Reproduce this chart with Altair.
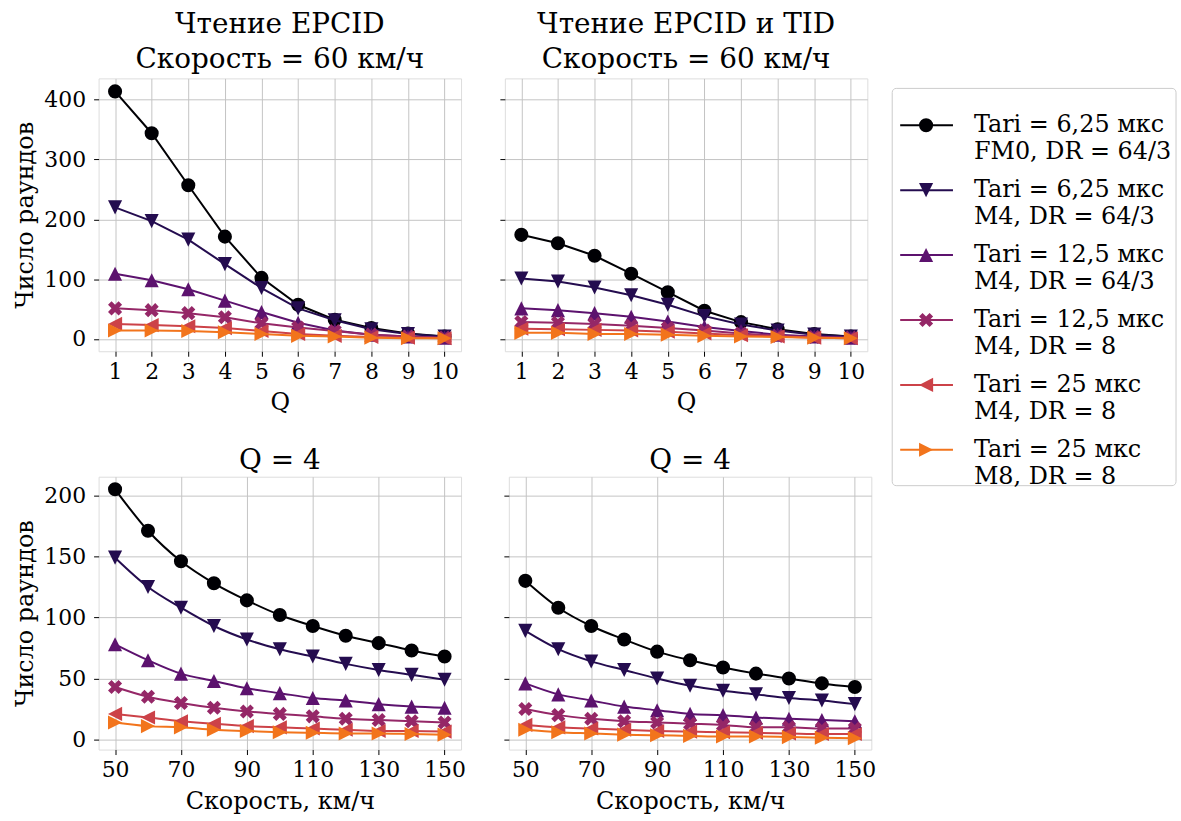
import altair as alt
import pandas as pd

FONT = "DejaVu Serif"

series = [
    "Tari = 6,25 мкс\nFM0, DR = 64/3",
    "Tari = 6,25 мкс\nM4, DR = 64/3",
    "Tari = 12,5 мкс\nM4, DR = 64/3",
    "Tari = 12,5 мкс\nM4, DR = 8",
    "Tari = 25 мкс\nM4, DR = 8",
    "Tari = 25 мкс\nM8, DR = 8",
]
colors = ["#000004", "#240c4f", "#5c126e", "#952767", "#cc4248", "#f2741c"]
shapes = [
    "circle",
    "M0,1 L-1,-1 L1,-1 Z",
    "M0,-1 L-1,1 L1,1 Z",
    "M-0.5,-1 L0,-0.5 L0.5,-1 L1,-0.5 L0.5,0 L1,0.5 L0.5,1 L0,0.5 L-0.5,1 L-1,0.5 L-0.5,0 L-1,-0.5 Z",
    "M-1,0 L1,-1 L1,1 Z",
    "M1,0 L-1,-1 L-1,1 Z",
]

q_vals = [1, 2, 3, 4, 5, 6, 7, 8, 9, 10]
epc_q = [
    [414, 344, 257, 171, 102, 57, 32, 18, 9, 4],
    [220, 197, 166, 125, 85, 51, 31, 16, 8, 4],
    [109, 98, 83, 64, 45, 27, 14, 7, 4, 2],
    [51, 48, 43, 36, 26, 19, 13, 7, 4, 2],
    [25, 23, 21, 18, 13, 8, 5, 3, 2, 1],
    [14, 14, 13, 11, 8, 5, 4, 2, 1, 1],
]
tid_q = [
    [174, 160, 139, 109, 78, 47, 28, 16, 8, 4],
    [101, 96, 86, 73, 57, 38, 24, 14, 7, 4],
    [51, 48, 43, 37, 29, 20, 13, 7, 4, 2],
    [28, 27, 25, 22, 18, 14, 9, 5, 3, 2],
    [17, 16, 15, 14, 12, 9, 6, 4, 2, 1],
    [10, 10, 8, 8, 7, 5, 4, 3, 2, 1],
]

speed_vals = [50, 60, 70, 80, 90, 100, 110, 120, 130, 140, 150]
epc_v = [
    [205, 171, 146, 128, 114, 102, 93, 85, 79, 73, 68],
    [149, 125, 108, 93, 82, 74, 68, 62, 57, 53, 49],
    [78, 65, 54, 48, 42, 38, 34, 32, 29, 27, 26],
    [43, 35, 30, 26, 23, 21, 19, 17, 16, 15, 14],
    [21, 18, 15, 13, 11, 10, 9, 8, 7, 7, 6.5],
    [14, 11, 10, 8, 7, 6, 5.5, 5, 5, 4.5, 4],
]
tid_v = [
    [130, 108, 93, 82, 72, 65, 59, 54, 50, 46, 43],
    [89, 74, 64, 57, 50, 44, 40, 37, 34, 32, 29],
    [46, 37, 32, 27, 24, 21, 20, 18, 17, 16, 15],
    [25, 20, 17, 15, 14, 13, 12, 10, 10, 9, 9],
    [12, 10, 9, 8, 7, 6.5, 6, 5.5, 5, 4.5, 4.5],
    [8, 6, 5, 4, 3.5, 3, 2.5, 2.5, 2, 1.5, 1],
]

titles = [
    ["Чтение EPCID", "Скорость = 60 км/ч"],
    ["Чтение EPCID и TID", "Скорость = 60 км/ч"],
    ["Q = 4"],
    ["Q = 4"],
]
q_ticks = q_vals
speed_ticks = [50, 70, 90, 110, 130, 150]
top_yticks = [0, 100, 200, 300, 400]
bot_yticks = [0, 50, 100, 150, 200]

PW, PH = 364, 274
MSIZE = 200
GRID = "#c4c4c4"


def panel(xs, ys_list, title, toff, xtitle, xdomain, xticks, ydomain, yticks, show_y, interp):
    layers = []
    for i, ys in enumerate(ys_list):
        df = pd.DataFrame({"x": xs, "y": ys})
        base = alt.Chart(df)
        xenc = alt.X(
            "x:Q",
            scale=alt.Scale(domain=xdomain, nice=False, zero=False),
            axis=alt.Axis(
                values=xticks, title=xtitle, grid=True, gridColor=GRID,
                gridWidth=1, tickColor="black", tickSize=5, labelFontSize=22,
                labelColor="black", labelFont=FONT, titleFont=FONT,
                titleFontSize=24, titleFontWeight="normal", titleColor="black",
                domain=False, labelPadding=5, titlePadding=9, format="d",
                labelFlush=False,
            ),
        )
        yaxis = dict(
            values=yticks, grid=True, gridColor=GRID, gridWidth=1,
            tickColor="black", tickSize=5, labelFontSize=22, labelColor="black",
            labelFont=FONT, domain=False, labelPadding=8, format="d",
        )
        if show_y:
            yaxis.update(title="Число раундов", titleFont=FONT, titleFontSize=24,
                         titleFontWeight="normal", titleColor="black", titlePadding=6)
        else:
            yaxis.update(title=None, labels=False)
        yenc = alt.Y("y:Q", scale=alt.Scale(domain=ydomain, nice=False, zero=False),
                     axis=alt.Axis(**yaxis))
        line = base.mark_line(color=colors[i], strokeWidth=2, interpolate=interp).encode(x=xenc, y=yenc)
        pts = base.mark_point(shape=shapes[i], filled=True, size=MSIZE, opacity=1,
                              color=colors[i]).encode(x=xenc, y=yenc)
        layers += [line, pts]
    return alt.layer(*layers).properties(
        width=PW, height=PH,
        title=alt.TitleParams(text=title, fontSize=28, font=FONT, fontWeight="normal",
                              color="black", anchor="middle", offset=toff, lineHeight=36),
    )


top_ydom = [-20.75, 435.75]
bot_ydom = [-8.2, 215.3]
qdom = [0.55, 10.45]
vdom = [45, 155]

p1 = panel(q_vals, epc_q, titles[0], 4, "Q", qdom, q_ticks, top_ydom, top_yticks, True, "linear")
p2 = panel(q_vals, tid_q, titles[1], 4, "Q", qdom, q_ticks, top_ydom, top_yticks, False, "linear")
p3 = panel(speed_vals, epc_v, titles[2], 2, "Скорость, км/ч", vdom, speed_ticks, bot_ydom, bot_yticks, True, "monotone")
p4 = panel(speed_vals, tid_v, titles[3], 2, "Скорость, км/ч", vdom, speed_ticks, bot_ydom, bot_yticks, False, "monotone")

grid = alt.vconcat(
    alt.hconcat(p1, p2, spacing=37),
    alt.hconcat(p3, p4, spacing=37),
    spacing=30,
)

# legend panel (drawn as its own small chart, matplotlib-style)
LW, LH = 288, 420
leg_df = pd.DataFrame({"idx": list(range(6)), "label": series})
ysc = alt.Scale(domain=[-0.721, 5.721], reverse=True, nice=False, zero=False)
box = alt.Chart(pd.DataFrame({"a": [0]})).mark_rect(
    fill="white", stroke="#cccccc", strokeWidth=1, cornerRadius=4
).encode(
    x=alt.value(1), x2=alt.value(286),
    y=alt.Y(datum=-0.567, scale=ysc, axis=None), y2=alt.Y2(datum=5.552),
)
leg_layers = [box]
for i in range(6):
    d = leg_df.iloc[[i]]
    b = alt.Chart(d)
    yenc = alt.Y("idx:Q", scale=ysc, axis=None)
    leg_layers.append(b.mark_rule(color=colors[i], strokeWidth=2).encode(
        x=alt.value(9), x2=alt.value(62), y=yenc))
    leg_layers.append(b.mark_point(shape=shapes[i], filled=True, size=MSIZE, opacity=1,
                                   color=colors[i]).encode(x=alt.value(35), y=yenc))
    leg_layers.append(b.mark_text(align="left", baseline="middle", lineBreak="\n",
                                  font=FONT, fontSize=24, lineHeight=27, color="black").encode(
        x=alt.value(83), y=yenc, text="label:N"))
legend = alt.layer(*leg_layers).properties(
    width=LW, height=LH, view=alt.ViewBackground(stroke="transparent")
)

chart = alt.hconcat(grid, legend, spacing=14).configure_view(
    stroke="black", strokeWidth=1
).configure(padding={"left": 13, "top": 8, "right": 2, "bottom": 2}, background="white")

chart.save("out.html", embed_options={"renderer": "svg", "actions": False})
